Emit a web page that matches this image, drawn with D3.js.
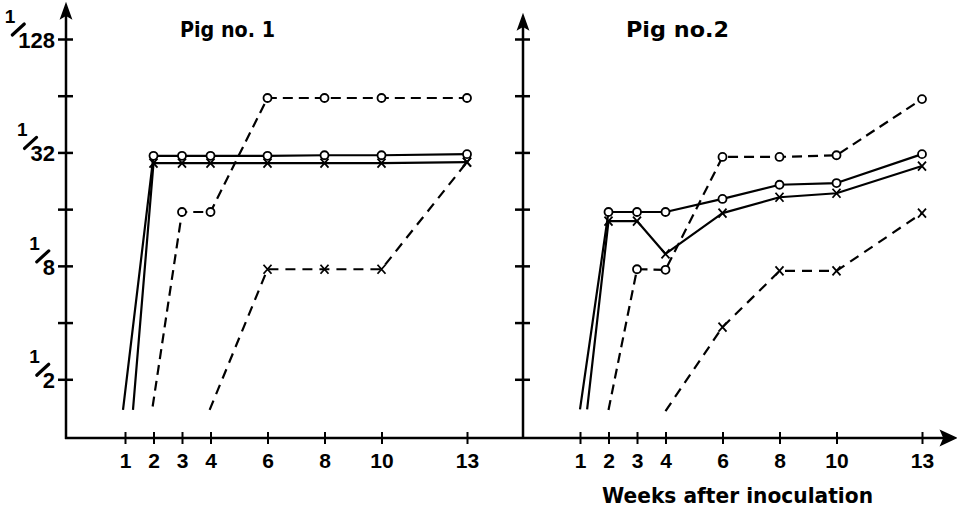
<!DOCTYPE html>
<html>
<head>
<meta charset="utf-8">
<script src="https://cdn.jsdelivr.net/npm/d3@7"></script>
<style>
  html, body { margin: 0; padding: 0; background: #fff; }
  svg { display: block; }
</style>
</head>
<body>
<div id="chart"></div>
<script>
// ---------- DATA ----------
// x: weeks after inoculation; y: log2 of reciprocal titre (1 = 1/2, 5 = 1/32, 7 = 1/128)
const weekTicks = [1, 2, 3, 4, 6, 8, 10, 13];
const titreTicks = [1, 2, 3, 4, 5, 6, 7];
const titreLabels = { 1: "2", 3: "8", 5: "32", 7: "128" };  // shown as 1/n
const panelTitles = ["Pig no. 1", "Pig no.2"];
const xAxisTitle = "Weeks after inoculation";

// First point of each series is the onset (no marker)
const pig1SolidCircle = [[0.93, 0.46], [2, 4.94], [3, 4.94], [4, 4.94], [6, 4.94], [8, 4.95], [10, 4.95], [13, 4.97]];
const pig1SolidCross  = [[1.28, 0.46], [2, 4.81], [3, 4.81], [4, 4.81], [6, 4.81], [8, 4.81], [10, 4.81], [13, 4.83]];
const pig1DashCircle  = [[1.97, 0.52], [3, 3.95], [4, 3.95], [6, 5.96], [8, 5.96], [10, 5.96], [13, 5.96]];
const pig1DashCross   = [[3.97, 0.46], [6, 2.94], [8, 2.94], [10, 2.94], [13, 4.83]];

const pig2SolidCircle = [[1.0, 0.47], [2, 3.95], [3, 3.95], [4, 3.95], [6, 4.18], [8, 4.43], [10, 4.46], [13, 4.97]];
const pig2SolidCross  = [[1.25, 0.47], [2, 3.79], [3, 3.79], [4, 3.21], [6, 3.93], [8, 4.21], [10, 4.28], [13, 4.76]];
const pig2DashCircle  = [[2.0, 0.46], [3, 2.94], [4, 2.93], [6, 4.92], [8, 4.92], [10, 4.95], [13, 5.94]];
const pig2DashCross   = [[4.0, 0.44], [6, 1.92], [8, 2.91], [10, 2.91], [13, 3.93]];

// ---------- LAYOUT ----------
const W = 957, H = 509;
const axisY = 438;
const panels = [
  { title: panelTitles[0], yAxisX: 66, xRange: [125, 467], titleX: 180, titleW: 95, arrowTop: 4,
    series: [
      { data: pig1SolidCircle, dash: null, marker: "circle" },
      { data: pig1SolidCross,  dash: null, marker: "cross" },
      { data: pig1DashCircle,  dash: "10,6", marker: "circle" },
      { data: pig1DashCross,   dash: "10,7", marker: "cross" }
    ], labels: true },
  { title: panelTitles[1], yAxisX: 523, xRange: [580, 922], titleX: 626, titleW: 103, arrowTop: 15,
    series: [
      { data: pig2SolidCircle, dash: null, marker: "circle" },
      { data: pig2SolidCross,  dash: null, marker: "cross" },
      { data: pig2DashCircle,  dash: "10,6", marker: "circle" },
      { data: pig2DashCross,   dash: "10,7", marker: "cross" }
    ], labels: false }
];

const y = d3.scaleLinear().domain([0, 7]).range([436, 39]);

const svg = d3.select("#chart").append("svg")
  .attr("width", W).attr("height", H)
  .attr("viewBox", `0 0 ${W} ${H}`);

const numFont = "'Liberation Sans', Arial, sans-serif";

// continuous x axis line with arrow
svg.append("line")
  .attr("x1", panels[0].yAxisX - 1).attr("x2", 950)
  .attr("y1", axisY).attr("y2", axisY)
  .attr("stroke", "#000").attr("stroke-width", 2.5);
svg.append("path")
  .attr("d", `M956,${axisY} L941,${axisY - 7} L944,${axisY} L941,${axisY + 7} Z`)
  .attr("fill", "#000").attr("stroke", "#000").attr("stroke-width", 1.5).attr("stroke-linejoin", "miter");

panels.forEach((p, pi) => {
  const x = d3.scaleLinear().domain([1, 13]).range(p.xRange);
  const g = svg.append("g");

  // y axis line + arrow
  g.append("line")
    .attr("x1", p.yAxisX).attr("x2", p.yAxisX)
    .attr("y1", axisY + 1).attr("y2", p.arrowTop + 6)
    .attr("stroke", "#000").attr("stroke-width", 2.5);
  g.append("path")
    .attr("d", `M${p.yAxisX},${p.arrowTop} L${p.yAxisX - 5},${p.arrowTop + 14} L${p.yAxisX},${p.arrowTop + 11} L${p.yAxisX + 5},${p.arrowTop + 14} Z`)
    .attr("fill", "#000").attr("stroke", "#000").attr("stroke-width", 1.5);

  // y ticks (crossing the axis)
  const yAx = g.append("g").attr("transform", `translate(${p.yAxisX},0)`)
    .call(d3.axisLeft(y).tickValues(titreTicks).tickFormat("").tickSize(0));
  yAx.select(".domain").remove();
  yAx.selectAll(".tick line")
    .attr("x1", -8).attr("x2", 7)
    .attr("stroke", "#000").attr("stroke-width", 2.5);

  // x ticks + labels
  const xAx = g.append("g").attr("transform", `translate(0,${axisY})`)
    .call(d3.axisBottom(x).tickValues(weekTicks).tickSize(0).tickPadding(30));
  xAx.select(".domain").remove();
  xAx.selectAll(".tick line")
    .attr("y1", -6).attr("y2", 6)
    .attr("stroke", "#000").attr("stroke-width", 2);
  xAx.selectAll(".tick text")
    .attr("dy", 0)
    .attr("font-family", numFont)
    .attr("font-weight", "bold")
    .attr("font-size", 21)
    .attr("fill", "#000");

  // y tick fraction labels (left panel only)
  if (p.labels) {
    const lg = g.append("g");
    Object.keys(titreLabels).forEach(k => {
      const v = +k;
      const ty = y(v);
      const base = ty + 9;
      const right = p.yAxisX - 11;
      const den = lg.append("text")
        .attr("x", right).attr("y", base)
        .attr("text-anchor", "end")
        .attr("font-family", numFont).attr("font-size", 22).attr("font-weight", "bold")
        .attr("fill", "#000")
        .text(titreLabels[k]);
      const dl = right - den.node().getComputedTextLength();
      const dt = base - 16;
      lg.append("line")
        .attr("x1", dl - 6).attr("y1", dt + 3)
        .attr("x2", dl + 6).attr("y2", dt - 8)
        .attr("stroke", "#000").attr("stroke-width", 3.2).attr("stroke-linecap", "round");
      lg.append("text")
        .attr("x", dl - 3).attr("y", dt - 9)
        .attr("text-anchor", "end")
        .attr("font-family", numFont).attr("font-size", 19).attr("font-weight", "bold")
        .attr("fill", "#000")
        .text("1");
    });
  }

  // title
  g.append("text")
    .attr("x", p.titleX).attr("y", 37)
    .attr("font-family", "'DejaVu Sans', sans-serif")
    .attr("font-weight", "bold").attr("font-size", 21)
    .attr("textLength", p.titleW).attr("lengthAdjust", "spacingAndGlyphs")
    .attr("fill", "#000")
    .text(p.title);

  // series lines
  const line = d3.line().x(d => x(d[0])).y(d => y(d[1]));
  p.series.forEach(s => {
    g.append("path")
      .attr("d", line(s.data))
      .attr("fill", "none")
      .attr("stroke", "#000")
      .attr("stroke-width", 2.2)
      .attr("stroke-dasharray", s.dash)
      .attr("stroke-linejoin", "round");
  });

  // markers
  p.series.forEach(s => {
    const pts = s.data.slice(1);
    if (s.marker === "circle") {
      g.selectAll(null).data(pts).enter().append("circle")
        .attr("cx", d => x(d[0])).attr("cy", d => y(d[1]))
        .attr("r", 4)
        .attr("fill", "#fff").attr("stroke", "#000").attr("stroke-width", 1.8);
    } else {
      g.selectAll(null).data(pts).enter().append("path")
        .attr("transform", d => `translate(${x(d[0])},${y(d[1])})`)
        .attr("d", "M-4,-4.5L4,4.5M-4,4.5L4,-4.5")
        .attr("fill", "none").attr("stroke", "#000").attr("stroke-width", 1.8);
    }
  });
});

// x axis title
svg.append("text")
  .attr("x", 602).attr("y", 503)
  .attr("font-family", "'DejaVu Sans', sans-serif")
  .attr("font-weight", "bold").attr("font-size", 21)
  .attr("textLength", 271).attr("lengthAdjust", "spacingAndGlyphs")
  .attr("fill", "#000")
  .text(xAxisTitle);
</script>
</body>
</html>
